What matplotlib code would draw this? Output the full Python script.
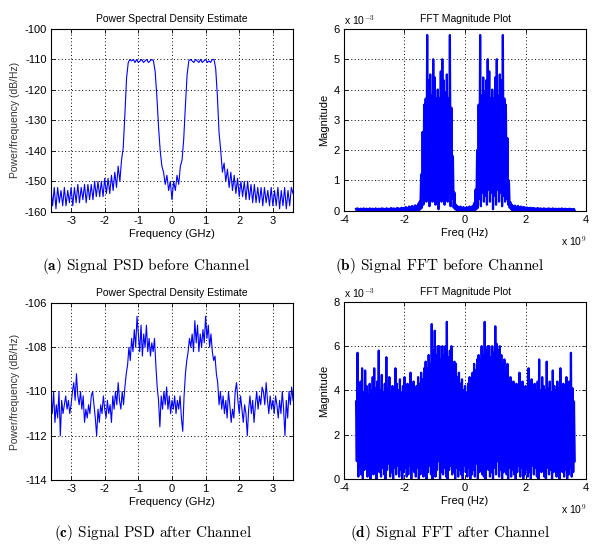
import numpy as np
import matplotlib
matplotlib.use("Agg")
import matplotlib.pyplot as plt

plt.rcParams['font.family'] = ['Liberation Sans', 'DejaVu Sans']
plt.rcParams['mathtext.fontset'] = 'cm'
plt.rcParams['axes.unicode_minus'] = False

# ---- (a) PSD before channel, dB/Hz, one value every 0.05 GHz from -3.6 to 3.6
psd_before = [
    -152, -158, -152, -159, -152, -157, -153, -158, -152, -158,
    -153, -157, -152, -158, -152, -157, -151, -157, -152, -156,
    -151, -157, -151, -156, -151, -156, -150, -155, -150, -155,
    -150, -155, -149, -154, -149, -154, -148, -153, -147, -152,
    -145, -150, -143, -139, -128, -116, -111, -110, -110.5, -110,
    -111, -110, -111, -110.5, -110, -111, -110.5, -110, -111, -110.5,
    -110, -110.5, -114, -122, -132, -140, -145, -147, -151, -148,
    -153, -150, -156, -150, -153, -148, -151, -145, -143, -136,
    -125, -115, -110.5, -110, -110.5, -111, -110, -110.5, -111, -110,
    -111, -110.5, -110, -111, -110.5, -111, -110, -110, -113, -122,
    -134, -140, -147, -144, -150, -146, -152, -147, -153, -148,
    -154, -149, -155, -150, -155, -150, -156, -150, -156, -151,
    -157, -151, -157, -152, -157, -152, -158, -152, -157, -153,
    -158, -152, -158, -153, -158, -152, -159, -153, -158, -152,
    -159, -153, -158, -152, -154,
]

# ---- (c) PSD after channel, dB/Hz, one value every 0.04 GHz from -3.6 to 3.6
psd_after = [
    -110.2, -111.0, -110.0, -111.4, -110.6, -111.2, -110.0, -112.0, -110.4, -111.0,
    -110.6, -110.2, -110.8, -110.4, -111.0, -110.6, -110.0, -109.6, -110.4, -109.2,
    -110.2, -110.6, -110.0, -110.8, -110.2, -111.4, -110.8, -111.2, -110.6, -111.0,
    -110.2, -110.0, -110.6, -111.2, -112.0, -110.8, -111.4, -110.6, -111.0, -110.2,
    -110.8, -111.2, -110.4, -111.0, -110.6, -111.4, -110.2, -110.8, -110.0, -110.6,
    -109.6, -110.4, -110.8, -110.0, -110.6, -109.8, -109.2, -108.8, -108.0, -108.6,
    -107.6, -108.2, -107.2, -108.0, -106.6, -107.4, -108.2, -107.0, -108.4, -107.4,
    -108.0, -107.0, -108.2, -107.6, -108.4, -107.8, -108.2, -107.6, -108.8, -109.8,
    -110.4, -111.6, -110.2, -110.8, -110.0, -110.6, -109.8, -110.8, -110.2, -111.0,
    -110.4, -110.8, -110.2, -111.0, -110.4, -110.8, -110.2, -111.2, -111.8, -110.2,
    -109.2, -108.6, -108.2, -107.6, -108.0, -107.4, -108.2, -106.8, -107.8, -107.0,
    -108.2, -107.4, -108.0, -107.2, -107.8, -106.6, -107.6, -107.0, -108.0, -107.4,
    -108.2, -108.6, -108.4, -109.2, -109.6, -110.6, -110.0, -110.8, -110.2, -111.0,
    -110.4, -111.2, -110.0, -110.6, -111.4, -110.8, -111.2, -110.0, -109.6, -110.4,
    -111.0, -110.2, -110.8, -111.4, -110.6, -111.0, -112.0, -110.8, -110.2, -111.0,
    -110.4, -111.4, -110.6, -110.0, -110.8, -110.2, -110.6, -109.8, -110.0, -110.6,
    -109.6, -110.4, -111.0, -110.2, -110.8, -110.4, -111.0, -110.2, -110.6, -111.2,
    -110.4, -111.0, -110.0, -110.8, -112.0, -110.4, -111.2, -110.0, -110.6, -109.8,
    -110.4,
]

# ---- (b) FFT magnitude before channel (x 1e-3), peak / trough every 0.05 GHz
fft_before_peak = [
    0.06, 0.08, 0.05, 0.07, 0.06, 0.08, 0.06, 0.07, 0.05, 0.08,
    0.06, 0.07, 0.06, 0.08, 0.05, 0.07, 0.06, 0.08, 0.07, 0.06,
    0.08, 0.07, 0.06, 0.09, 0.07, 0.08, 0.06, 0.09, 0.08, 0.07,
    0.10, 0.08, 0.10, 0.12, 0.09, 0.14, 0.12, 0.16, 0.13, 0.18,
    0.15, 0.22, 0.30, 1.2, 2.6, 3.5, 3.7, 5.8, 4.3, 4.5,
    3.8, 5.0, 4.4, 3.7, 4.0, 3.7, 4.6, 5.0, 4.3, 3.9,
    4.5, 3.7, 5.8, 3.4, 1.8, 0.6, 0.20, 0.15, 0.12, 0.14,
    0.10, 0.12, 0.09, 0.12, 0.10, 0.14, 0.12, 0.16, 0.25, 0.7,
    2.0, 3.5, 5.8, 3.8, 4.4, 3.9, 4.3, 5.0, 4.6, 3.7,
    4.0, 3.7, 4.4, 5.0, 3.8, 4.5, 4.3, 5.8, 3.7, 3.5,
    2.4, 1.0, 0.28, 0.20, 0.15, 0.17, 0.13, 0.16, 0.12, 0.14,
    0.11, 0.12, 0.10, 0.11, 0.09, 0.10, 0.08, 0.09, 0.08, 0.07,
    0.09, 0.07, 0.08, 0.06, 0.08, 0.07, 0.06, 0.08, 0.07, 0.06,
    0.08, 0.06, 0.07, 0.05, 0.07, 0.06, 0.08, 0.05, 0.07, 0.06,
    0.05, 0.07, 0.06, 0.05, 0.06,
]
fft_before_trough = (
    [0.0] * 42
    + [0.05, 0.1, 0.2, 0.4, 0.3, 0.5, 0.15, 0.6, 0.3, 0.7,
       0.2, 0.5, 0.05, 0.6, 0.3, 0.7, 0.2, 0.5, 0.3, 0.6,
       0.15, 0.4, 0.1, 0.05, 0.02]
    + [0.0] * 11
    + [0.02, 0.05, 0.1, 0.4, 0.15, 0.6, 0.3, 0.5, 0.2, 0.7,
       0.3, 0.6, 0.05, 0.5, 0.2, 0.7, 0.3, 0.6, 0.15, 0.5,
       0.3, 0.4, 0.2, 0.1, 0.05]
    + [0.0] * 42
)

# ---- (d) FFT magnitude after channel (x 1e-3), peak / trough every 0.05 GHz
fft_after_peak = [
    3.5, 5.7, 4.0, 4.4, 5.0, 3.9, 4.9, 4.2, 3.8, 4.3,
    4.0, 4.6, 5.0, 4.1, 4.4, 5.8, 4.0, 4.7, 3.9, 4.3,
    5.5, 4.1, 4.6, 3.9, 4.2, 4.0, 5.0, 4.3, 4.0, 4.5,
    3.9, 4.2, 4.6, 4.0, 4.3, 3.9, 4.8, 4.1, 4.4, 4.0,
    4.2, 4.6, 4.3, 4.8, 4.5, 5.0, 5.3, 5.0, 5.6, 5.2,
    7.0, 5.8, 6.7, 5.6, 6.0, 6.0, 5.4, 6.0, 5.6, 6.0,
    7.1, 5.5, 5.8, 6.0, 5.0, 5.3, 5.2, 4.6, 4.8, 4.3,
    4.5, 4.0, 4.2, 3.9, 4.3, 4.6, 4.4, 4.8, 5.2, 4.9,
    5.4, 5.6, 5.4, 6.0, 5.6, 7.1, 5.8, 6.0, 6.0, 5.5,
    6.0, 5.7, 6.9, 6.1, 5.8, 6.0, 5.6, 5.2, 5.4, 4.8,
    5.2, 4.4, 4.6, 4.1, 4.4, 4.0, 4.3, 4.0, 4.8, 4.1,
    4.4, 3.9, 4.2, 4.0, 5.0, 4.1, 4.5, 3.9, 4.3, 4.0,
    4.4, 5.4, 4.0, 4.6, 4.2, 4.0, 5.3, 4.1, 4.4, 3.9,
    4.9, 4.2, 4.0, 4.4, 4.1, 5.0, 4.0, 4.3, 3.9, 4.6,
    4.0, 4.4, 5.7, 4.1, 3.5,
]
fft_after_trough = [
    0.8, 0.1, 0.5, 0.2, 0.0, 0.4, 0.6, 0.1, 0.3, 0.0,
    0.5, 0.2, 0.4, 0.0, 0.6, 0.3, 0.1, 0.5, 0.2, 0.0,
    0.4, 0.7, 0.1, 0.3, 0.0, 0.5, 0.2, 0.6, 0.1, 0.4,
    0.0, 0.3, 0.5, 0.1, 0.2, 0.6, 0.0, 0.4, 0.3, 0.1,
    0.5, 0.0, 0.2, 0.7, 0.1, 0.4, 0.0, 0.3, 0.6, 0.2,
    0.0, 0.5, 0.1, 0.4, 0.8, 0.0, 0.3, 0.2, 0.5, 0.1,
    0.0, 0.4, 0.6, 0.2, 0.3, 0.0, 0.5, 0.1, 0.4, 0.2,
    0.0, 0.6, 0.3, 0.1, 0.5, 0.0, 0.2, 0.4, 0.1, 0.7,
    0.0, 0.3, 0.5, 0.2, 0.1, 0.0, 0.6, 0.4, 0.1, 0.3,
    0.0, 0.5, 0.2, 0.8, 0.1, 0.4, 0.0, 0.3, 0.6, 0.2,
    0.0, 0.5, 0.1, 0.4, 0.2, 0.0, 0.3, 0.6, 0.1, 0.5,
    0.0, 0.2, 0.4, 0.1, 0.3, 0.0, 0.6, 0.2, 0.5, 0.1,
    0.0, 0.4, 0.3, 0.7, 0.1, 0.0, 0.5, 0.2, 0.4, 0.0,
    0.3, 0.6, 0.1, 0.2, 0.0, 0.5, 0.3, 0.1, 0.4, 0.0,
    0.2, 0.5, 0.1, 0.3, 0.8,
]

captions = [
    r"$\mathbf{(a)}$ Signal PSD before Channel",
    r"$\mathbf{(b)}$ Signal FFT before Channel",
    r"$\mathbf{(c)}$ Signal PSD after Channel",
    r"$\mathbf{(d)}$ Signal FFT after Channel",
]

f_a = np.linspace(-3.6, 3.6, len(psd_before))
f_c = np.linspace(-3.6, 3.6, len(psd_after))
f_fft = np.linspace(-3.6, 3.6, len(fft_before_peak))


def zigzag(f, peak, trough):
    # alternate peak and trough samples so the trace fills like a dense fft plot
    xs = np.column_stack([f, f + 0.025]).ravel()
    ys = np.column_stack([peak, trough]).ravel()
    return xs, ys


def matlab_style(ax):
    ax.tick_params(direction='in', top=True, right=True, length=3,
                   width=0.6, labelsize=8, pad=3)
    ax.grid(True, linestyle=(0, (1, 2.5)), color='black', linewidth=0.7)
    for s in ax.spines.values():
        s.set_linewidth(0.8)


fig = plt.figure(figsize=(5.92, 5.46), dpi=100)
ax_a = fig.add_axes([0.086, 0.612, 0.409, 0.335])
ax_b = fig.add_axes([0.581, 0.614, 0.409, 0.333])
ax_c = fig.add_axes([0.086, 0.121, 0.409, 0.324])
ax_d = fig.add_axes([0.581, 0.123, 0.409, 0.324])

# (a)
ax_a.plot(f_a, psd_before, color='blue', lw=0.8)
ax_a.set_xlim(-3.6, 3.6)
ax_a.set_ylim(-160, -100)
ax_a.set_xticks(range(-3, 4))
ax_a.set_yticks(range(-160, -99, 10))

# (c)
ax_c.plot(f_c, psd_after, color='blue', lw=0.8)
ax_c.set_xlim(-3.6, 3.6)
ax_c.set_ylim(-114, -106)
ax_c.set_xticks(range(-3, 4))
ax_c.set_yticks(range(-114, -105, 2))

for ax in (ax_a, ax_c):
    ax.set_title('Power Spectral Density Estimate', fontsize=7.5, pad=5)
    ax.set_xlabel('Frequency (GHz)', fontsize=8, labelpad=2)
    ax.set_ylabel('Power/frequency (dB/Hz)', fontsize=7.5, color='#333333', labelpad=3)

# (b)
xs, ys = zigzag(f_fft, fft_before_peak, fft_before_trough)
ax_b.plot(xs, ys, color='blue', lw=1.6)
ax_b.set_ylim(0, 6)
ax_b.set_yticks(range(0, 7))

# (d)
xs, ys = zigzag(f_fft, fft_after_peak, fft_after_trough)
ax_d.plot(xs, ys, color='blue', lw=1.6)
ax_d.set_ylim(0, 8)
ax_d.set_yticks(range(0, 9, 2))

for ax in (ax_b, ax_d):
    ax.set_xlim(-4, 4)
    ax.set_xticks(range(-4, 5, 2))
    ax.set_title('FFT Magnitude Plot', fontsize=7.5, pad=5)
    ax.set_xlabel('Freq (Hz)', fontsize=8, labelpad=2)
    ax.set_ylabel('Magnitude', fontsize=8, labelpad=3)
    ax.text(0.0, 1.01, r'x 10$^{-3}$', transform=ax.transAxes,
            fontsize=7.5, ha='left', va='bottom')
    ax.text(0.95, -0.17, r'x 10$^{9}$', transform=ax.transAxes,
            fontsize=7.5, ha='center', va='center')

for ax in (ax_a, ax_b, ax_c, ax_d):
    matlab_style(ax)

cap_pos = [(0.247, 0.513), (0.742, 0.513), (0.259, 0.024), (0.760, 0.024)]
for (cx, cy), txt in zip(cap_pos, captions):
    fig.text(cx, cy, txt, ha='center', va='center', fontsize=11, family='cmr10')

fig.savefig('out.png', dpi=100)
